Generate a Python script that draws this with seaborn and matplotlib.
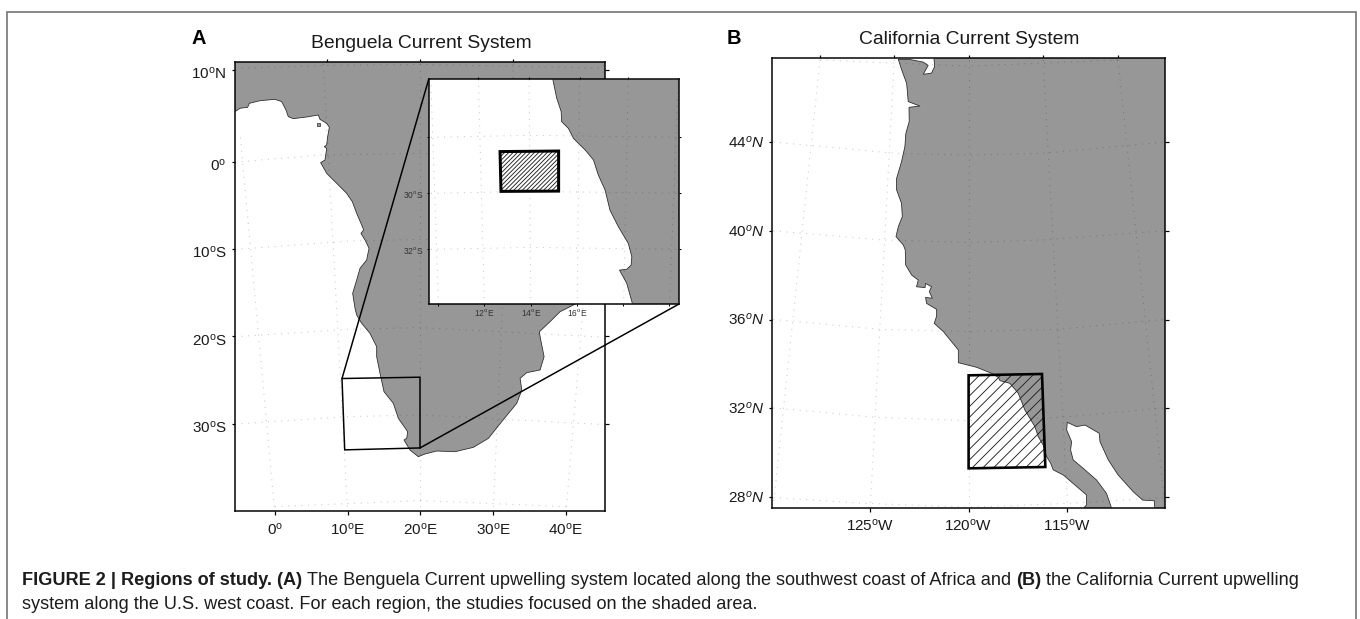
import numpy as np
import matplotlib
matplotlib.use("Agg")
import matplotlib.pyplot as plt
from matplotlib.patches import ConnectionPatch, Polygon, Rectangle
from matplotlib.transforms import ScaledTranslation
import seaborn as sns

# ---------------- data: coastlines (lon, lat) ----------------
africa_lon = [-5.50,-4.82,-3.76,-3.53,-2.06,0,0.92,1.51,1.83,2.52,4.36,5.96,6.19,7.11,7.48,7.25,7.11,6.79,7.11,6.88,6.28,7.11,8.49,9.86,10.64,11.24,11.93,12.20,11.83,12.39,12.94,12.61,11.70,11.24,10.69,11.01,11.24,11.93,13.07,13.99,13.99,14.45,15.0,16.28,16.97,18.26,18.12,17.75,18.58,19.72,20.64,22.25,24.77,27.29,29.36,31.19,33.26,33.95,33.72,34.63,36.47,37.02,36.47,36.38,37.84,39.22,41.51,46,46,-6,-6]
africa_lat = [5.45,5.82,5.93,6.36,6.65,6.80,6.55,5.64,4.91,4.69,4.87,5.09,4.62,4.18,3.75,2.73,1.82,1.64,1.45,0.18,-0.11,-1.34,-2.48,-3.63,-4.58,-5.92,-7.25,-7.82,-8.21,-8.97,-9.92,-11.26,-12.21,-13.55,-15.08,-16.79,-17.56,-18.51,-19.66,-21.18,-22.33,-24.24,-26.34,-27.67,-29.39,-30.92,-31.68,-31.87,-33.02,-33.78,-33.47,-33.13,-33.21,-32.71,-31.68,-29.77,-27.67,-26.15,-24.81,-24.16,-23.85,-22.33,-20.04,-19.47,-18.32,-17.18,-16.22,-12,12,12,5.3]
island_lon = [5.8,6.2,6.2,5.8]
island_lat = [4.25,4.25,3.85,3.85]

inset_lon = [14.95,15.12,15.31,15.33,15.62,15.84,16.34,16.70,16.91,17.20,17.41,17.77,18.20,18.35,18.32,18.13,17.82,18.13,18.38,20.38,20.38]
inset_lat = [-25.93,-26.61,-27.08,-27.44,-27.68,-28.04,-28.45,-28.81,-29.35,-29.88,-30.60,-31.19,-31.79,-32.26,-32.56,-32.71,-32.74,-33.21,-33.95,-33.95,-25.93]

calif_lon = [-123.56,-123.40,-123.14,-123.06,-122.47,-123.02,-123.01,-123.18,-123.23,-123.40,-123.65,-123.65,-123.40,-123.36,-123.56,-123.68,-123.31,-123.21,-123.19,-122.89,-122.55,-122.64,-122.21,-122.18,-121.88,-121.99,-121.84,-122.18,-122.13,-121.62,-121.62,-121.74,-121.28,-120.52,-120.52,-119.59,-118.83,-118.50,-118.41,-117.91,-117.48,-117.15,-116.64,-116.47,-116.22,-116.05,-115.84,-115.71,-115.20,-114.61,-114.02,-114.02,-114.19,-112.75,-113.01,-113.51,-114.19,-114.70,-114.83,-114.78,-115.03,-115.00,-114.53,-114.10,-113.38,-113.34,-112.92,-112.42,-111.66,-111.18,-110.59,-110.56,-110.0,-110.0,-121.76,-121.72,-121.88,-122.30,-122.05,-122.30,-123.0,-123.56]
calif_lat = [47.72,47.27,46.64,45.82,45.62,45.56,44.92,44.39,43.79,43.11,42.36,41.84,41.24,40.64,40.19,39.74,39.36,39.14,38.46,38.01,37.78,37.48,37.44,37.63,37.48,37.26,36.96,37.0,36.73,36.46,36.16,35.83,35.46,34.63,34.06,33.85,33.58,33.40,33.25,33.13,32.68,31.93,31.18,30.73,30.35,29.83,29.53,29.23,29.00,28.55,28.10,27.65,27.50,27.50,28.17,28.77,29.30,29.68,30.13,30.50,31.03,31.37,31.18,31.25,30.88,30.50,29.68,29.00,28.25,27.87,27.84,27.50,27.50,47.8,47.8,47.40,47.10,47.05,47.45,47.60,47.72,47.72]

# study boxes
box_a_lon = [9.22,19.95,19.95,9.59]
box_a_lat = [-24.83,-24.68,-32.78,-33.0]
box_inset_lon = [12.68,15.2,15.2,12.72]
box_inset_lat = [-28.51,-28.49,-29.92,-29.93]
box_b_lon = [-120,-116.28,-116.11,-120]
box_b_lat = [33.49,33.55,29.36,29.30]

# graticule lines
grat_a = [
    ([-4.6,8,20,45.2],[10.2,10.5,10.6,10.2]),
    ([-4.6,6.2,20,45.2],[0,0.73,0.91,0]),
    ([-4.6,9.9,20,45.2],[-10,-9.1,-8.9,-10]),
    ([-4.6,9.9,20,45.2],[-20,-19.2,-19,-20.1]),
    ([-4.6,9.9,20,45.2],[-30,-29.2,-29,-30.1]),
    ([0,20,40.1],[-39.5,-38.8,-39.5]),
    ([-0.1,-4.8],[-39.5,3.0]),
    ([9.95,6.65],[-39.5,10.7]),
    ([20,20],[-39.5,10.7]),
    ([30.05,32.8],[-39.5,10.7]),
    ([40.1,45.2],[-39.5,10.7]),
]
grat_inset = [
    ([9.7,14,20.3],[-28,-27.93,-28]),
    ([9.7,14,20.3],[-30,-29.93,-30]),
    ([9.7,14,20.3],[-32,-31.93,-32]),
    ([11.75,12],[-25.93,-33.95]),
    ([13.93,14],[-25.93,-33.95]),
    ([16.1,16],[-25.93,-33.95]),
    ([18.2,18],[-25.93,-33.95]),
    ([10.03,9.7],[-33.95,-25.93]),
    ([20.35,19.97],[-25.93,-33.95]),
]
grat_b = [
    ([-127.53,-120,-112.43],[47.69,47.42,47.69]),
    ([-129.9,-123.7,-120,-116.2,-110.05],[44,43.49,43.41,43.49,44]),
    ([-129.9,-124.4,-120,-116.2,-110.05],[40,39.59,39.47,39.59,40]),
    ([-129.9,-124.5,-120,-115.5,-110.05],[36.01,35.56,35.46,35.56,36.01]),
    ([-129.9,-124.7,-120,-115.3,-110.05],[32.02,31.6,31.45,31.6,32.02]),
    ([-129.9,-125.1,-120,-115,-110.05],[27.98,27.72,27.55,27.72,27.98]),
    ([-127.53,-129.9],[47.7,27.6]),
    ([-123.77,-124.98],[47.7,27.6]),
    ([-120,-120],[47.7,27.6]),
    ([-116.22,-114.98],[47.7,27.6]),
    ([-112.43,-110.05],[47.7,27.6]),
]

# ticks
a_xticks = [0,10,20,30,40]
a_xlabels = ["0$^{\\mathrm{o}}$","10$^{\\mathrm{o}}$E","20$^{\\mathrm{o}}$E","30$^{\\mathrm{o}}$E","40$^{\\mathrm{o}}$E"]
a_top = [7.16,19.95,32.8]
a_yticks = [10,0,-10,-20,-30]
a_ylabels = ["10$^{\\mathrm{o}}$N","0$^{\\mathrm{o}}$","10$^{\\mathrm{o}}$S","20$^{\\mathrm{o}}$S","30$^{\\mathrm{o}}$S"]
i_xticks = [10.03,12,14,16,17.99,19.97]
i_xlabels = ["","12$^{\\mathrm{o}}$E","14$^{\\mathrm{o}}$E","16$^{\\mathrm{o}}$E","",""]
i_top = [11.75,13.93,16.1,18.2]
i_yticks = [-28,-30,-32]
i_ylabels = ["","30$^{\\mathrm{o}}$S","32$^{\\mathrm{o}}$S"]
b_xticks = [-125,-120,-115]
b_xlabels = ["125$^{\\mathrm{o}}$W","120$^{\\mathrm{o}}$W","115$^{\\mathrm{o}}$W"]
b_top = [-127.53,-123.77,-120,-116.22,-112.43]
b_yticks = [44,40,36,32,28]
b_ylabels = ["$\\mathit{44^{o}N}$","$\\mathit{40^{o}N}$","$\\mathit{36^{o}N}$","$\\mathit{32^{o}N}$","$\\mathit{28^{o}N}$"]

caption_line1 = [("FIGURE 2 | Regions of study. (A)", "bold"),
                 ("The Benguela Current upwelling system located along the southwest coast of Africa and", "normal"),
                 ("(B)", "bold"),
                 ("the California Current upwelling", "normal")]
caption_line2 = [("system along the U.S. west coast. For each region, the studies focused on the shaded area.", "normal")]

# ---------------- style ----------------
W, H, DPI = 1360, 619, 128
PX = 72 / DPI
LAND = "#979797"
sns.set_theme(style="white")
plt.rcParams["font.family"] = ["Liberation Sans", "DejaVu Sans"]
plt.rcParams["mathtext.fontset"] = "custom"
plt.rcParams["mathtext.rm"] = "Liberation Sans"
plt.rcParams["mathtext.it"] = "Liberation Sans:italic"
plt.rcParams["mathtext.bf"] = "Liberation Sans:bold"
plt.rcParams["hatch.linewidth"] = 0.9 * PX

fig = plt.figure(figsize=(W / DPI, H / DPI), dpi=DPI, facecolor="white")


def axes_px(x0, y0, x1, y1, z):
    a = fig.add_axes([x0 / W, 1 - y1 / H, (x1 - x0) / W, (y1 - y0) / H], zorder=z, facecolor="white")
    for s in a.spines.values():
        s.set_linewidth(1.5 * PX)
        s.set_color("black")
        s.set_visible(True)
    return a


def draw_map(a, lon, lat, grat, glw=1.1):
    a.fill(lon, lat, facecolor=LAND, edgecolor="none", zorder=1)
    for gx, gy in grat:
        sns.lineplot(x=gx, y=gy, ax=a, sort=False, estimator=None, color="black", alpha=0.2,
                     linewidth=glw * PX, linestyle=(0, (1, 5)), zorder=2)
    sns.lineplot(x=lon, y=lat, ax=a, sort=False, estimator=None, color="#2a2a2a",
                 linewidth=0.8 * PX, zorder=3)


def set_ticks(a, xt, xl, yt, yl, top, fs, tl, tc="black", lc="#1a1a1a", tw=1.2, xpad=3.0, ypad=3.0, ylab_dy=0.0):
    a.set_xticks(xt)
    a.set_xticklabels(xl)
    a.set_yticks(yt)
    a.set_yticklabels(yl)
    a.minorticks_off()
    a.tick_params(axis="both", which="major", direction="out", length=tl * PX, width=tw * PX,
                  color=tc, labelsize=fs * PX, labelcolor=lc,
                  bottom=True, left=True, right=True, top=False)
    a.tick_params(axis="x", pad=xpad * PX)
    a.tick_params(axis="y", pad=ypad * PX)
    if ylab_dy:
        off = ScaledTranslation(0, ylab_dy / DPI, fig.dpi_scale_trans)
        for lab in a.get_yticklabels():
            lab.set_transform(lab.get_transform() + off)
    sec = a.secondary_xaxis("top")
    sec.set_xticks(top)
    sec.set_xticklabels([])
    sec.tick_params(direction="out", length=tl * PX, width=tw * PX, color=tc)
    sec.spines["top"].set_visible(False)


# ---------------- panel A ----------------
ax = axes_px(235, 61.7, 605, 511, 1)
ax.set_yscale("function", functions=(lambda v: np.where(np.asarray(v) > 0, np.asarray(v) * 1.05, v),
                                     lambda v: np.where(np.asarray(v) > 0, np.asarray(v) / 1.05, v)))
draw_map(ax, africa_lon, africa_lat, grat_a)
ax.fill(island_lon, island_lat, facecolor=LAND, edgecolor="#2a2a2a", linewidth=0.7 * PX, zorder=3)
ax.add_patch(Polygon(np.column_stack([box_a_lon, box_a_lat]), closed=True, fill=False,
                     edgecolor="black", linewidth=1.5 * PX, zorder=4))
ax.set_xlim(-5.5, 45.4)
ax.set_ylim(-40.0, 10.9)
set_ticks(ax, a_xticks, a_xlabels, a_yticks, a_ylabels, a_top, 15.2, 3.5, xpad=7.0, ypad=5.0, ylab_dy=-2.5)

# inset
ins = axes_px(428.7, 79.3, 679, 304, 3)
draw_map(ins, inset_lon, inset_lat, grat_inset)
ins.add_patch(Polygon(np.column_stack([box_inset_lon, box_inset_lat]), closed=True, facecolor="white",
                      edgecolor="#222222", hatch="//////////", linewidth=0, zorder=4))
ins.add_patch(Polygon(np.column_stack([box_inset_lon, box_inset_lat]), closed=True, fill=False,
                      edgecolor="black", linewidth=3.0 * PX, zorder=5))
ins.set_xlim(9.61, 20.38)
ins.set_ylim(-33.95, -25.93)
set_ticks(ins, i_xticks, i_xlabels, i_yticks, i_ylabels, i_top, 8.5, 2.0, lc="#333333", tw=1.0, xpad=1.0)

for pa, pb in [((box_a_lon[0], box_a_lat[0]), (9.61, -25.93)),
               ((box_a_lon[2], box_a_lat[2]), (20.38, -33.95))]:
    con = ConnectionPatch(xyA=pa, coordsA=ax.transData, xyB=pb, coordsB=ins.transData,
                          color="black", linewidth=1.5 * PX, zorder=2)
    fig.add_artist(con)

# ---------------- panel B ----------------
bx = axes_px(772.3, 58.3, 1165.3, 508.3, 1)
draw_map(bx, calif_lon, calif_lat, grat_b)
bx.add_patch(Polygon(np.column_stack([box_b_lon, box_b_lat]), closed=True, fill=False,
                     edgecolor="#222222", hatch="////", linewidth=0, zorder=4))
bx.add_patch(Polygon(np.column_stack([box_b_lon, box_b_lat]), closed=True, fill=False,
                     edgecolor="black", linewidth=2.6 * PX, zorder=5))
bx.set_xlim(-129.95, -110.03)
bx.set_ylim(27.5, 47.77)
set_ticks(bx, b_xticks, b_xlabels, b_yticks, b_ylabels, b_top, 15.2, 3.5, xpad=6.0, ypad=4.5, ylab_dy=1.0)


# ---------------- text ----------------
def ftext(x, y, s, size, **kw):
    return fig.text(x / W, 1 - y / H, s, fontsize=size * PX, **kw)


ftext(421, 43, "Benguela Current System", 19.3, ha="center", va="center", color="#1a1a1a", zorder=10)
ftext(969, 39, "California Current System", 19.3, ha="center", va="center", color="#1a1a1a", zorder=10)
ftext(192, 39, "A", 20, ha="left", va="center", fontweight="bold", color="black", zorder=10)
ftext(727, 39, "B", 20, ha="left", va="center", fontweight="bold", color="black", zorder=10)

renderer = fig.canvas.get_renderer()
CAP = 18.1
for segs, y in [(caption_line1, 585), (caption_line2, 609)]:
    x = 22
    for s, w in segs:
        t = ftext(x, y, s, CAP, ha="left", va="baseline", fontweight=w, color="#1c1c1c", zorder=10)
        x += t.get_window_extent(renderer).width + 5.0

# figure frame
fig.add_artist(Rectangle((7.3 / W, -0.01), (1356 - 7.3) / W, 1 - 11.7 / H + 0.01, transform=fig.transFigure,
                         fill=False, edgecolor="#777777", linewidth=1.7 * PX, zorder=0))

fig.savefig("out.png", dpi=DPI, facecolor="white")
